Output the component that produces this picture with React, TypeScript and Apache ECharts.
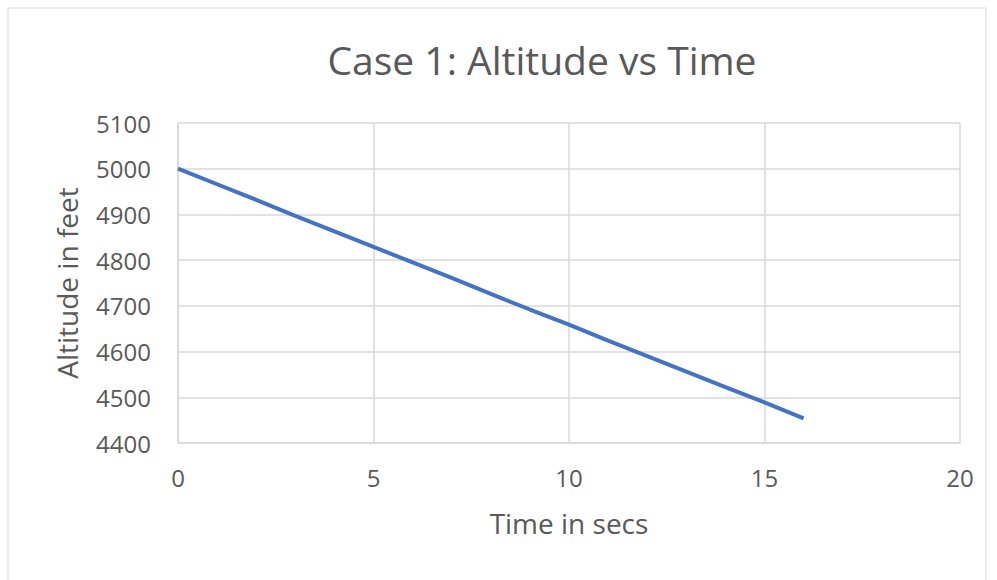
import React, { useEffect, useRef } from "react";
import * as echarts from "echarts";

const timeSecs = [0, 1, 2, 3, 4, 5, 6, 7, 8, 9, 10, 11, 12, 13, 14, 15, 16];
const altitudeFeet = [5000, 4966, 4932, 4897, 4863, 4829, 4795, 4761, 4726, 4692, 4659, 4624, 4590, 4556, 4522, 4489, 4454];
const titleText = "Case 1: Altitude vs Time";
const xName = "Time in secs";
const yName = "Altitude in feet";

const FONT = "'Open Sans', sans-serif";

export default function App() {
  const ref = useRef<HTMLDivElement>(null);
  useEffect(() => {
    const chart = echarts.init(ref.current!, null, { renderer: "svg" });
    chart.setOption({
      animation: false,
      backgroundColor: "#ffffff",
      title: {
        text: titleText,
        left: 537,
        textAlign: "center",
        top: 35,
        textStyle: { fontFamily: FONT, fontSize: 39, fontWeight: "normal", color: "#595959" },
      },
      graphic: [
        {
          type: "rect",
          shape: { x: 8, y: 8, width: 978, height: 580 },
          style: { fill: "none", stroke: "#d9d9d9", lineWidth: 1 },
          silent: true,
        },
      ],
      grid: { left: 178, right: 37, top: 123, bottom: 137 },
      xAxis: {
        type: "value",
        min: 0,
        max: 20,
        interval: 5,
        name: xName,
        nameLocation: "middle",
        nameGap: 66,
        nameTextStyle: { fontFamily: FONT, fontSize: 28, color: "#595959" },
        axisLine: { show: true, lineStyle: { color: "#d9d9d9", width: 1.5 } },
        axisTick: { show: false },
        axisLabel: { fontFamily: FONT, fontSize: 24, color: "#595959", margin: 22 },
        splitLine: { show: true, lineStyle: { color: "#d9d9d9", width: 1.5 } },
      },
      yAxis: {
        type: "value",
        min: 4400,
        max: 5100,
        interval: 100,
        name: yName,
        nameLocation: "middle",
        nameGap: 97,
        nameRotate: 90,
        nameTextStyle: { fontFamily: FONT, fontSize: 28, color: "#595959" },
        axisLine: { show: true, lineStyle: { color: "#d9d9d9", width: 1.5 } },
        axisTick: { show: false },
        axisLabel: {
          fontFamily: FONT,
          fontSize: 24,
          color: "#595959",
          margin: 27,
          formatter: (v: number) => String(v),
        },
        splitLine: { show: true, lineStyle: { color: "#d9d9d9", width: 1.5 } },
      },
      series: [
        {
          type: "line",
          data: timeSecs.map((t, i) => [t, altitudeFeet[i]]),
          showSymbol: false,
          lineStyle: { color: "#4472c4", width: 4 },
          itemStyle: { color: "#4472c4" },
        },
      ],
    });
    return () => chart.dispose();
  }, []);
  return <div ref={ref} style={{ position: "absolute", left: 0, top: 0, width: 997, height: 580 }} />;
}
